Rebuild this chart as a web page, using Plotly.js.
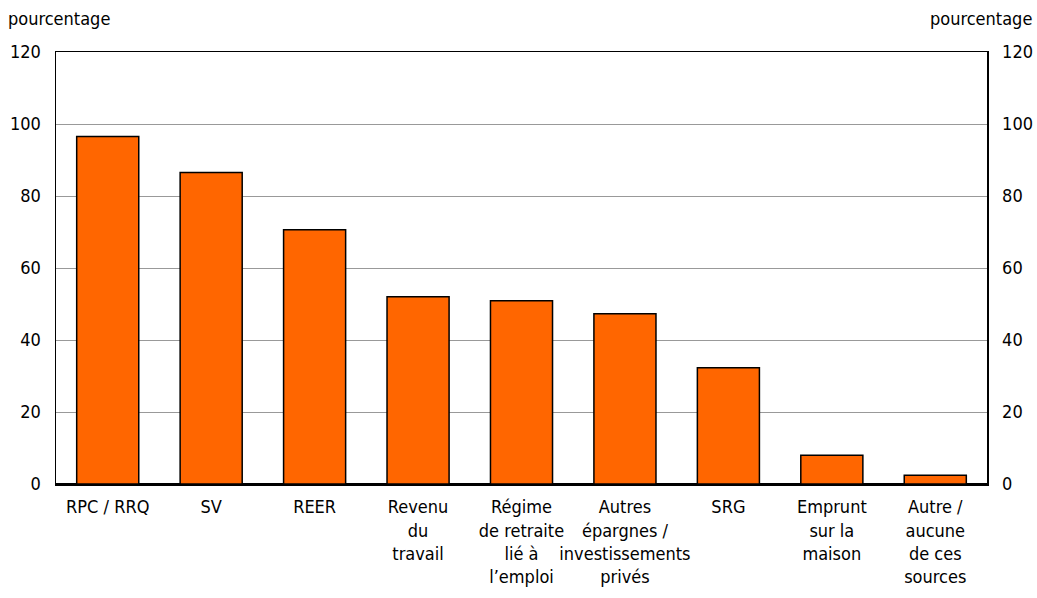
<!DOCTYPE html>
<html><head><meta charset="utf-8">
<script src="https://cdn.plot.ly/plotly-3.0.1.min.js"></script>
<style>html,body{margin:0;padding:0;background:#fff}#c{width:1037px;height:598px}</style>
</head><body><div id="c"></div>
<script>
var categories = ["RPC / RRQ","SV","REER","Revenu<br>du<br>travail","Régime<br>de retraite<br>lié à<br>l’emploi","Autres<br>épargnes /<br>investissements<br>privés","SRG","Emprunt<br>sur la<br>maison","Autre /<br>aucune<br>de ces<br>sources"];
var values = [96.5, 86.5, 70.6, 52.0, 50.9, 47.3, 32.3, 8.0, 2.4];
var yTicks = [0,20,40,60,80,100,120];
var unitLabel = "pourcentage";

var FONT = "'Liberation Sans Narrow','DejaVu Sans Condensed','Liberation Sans',sans-serif";
var trace = {
  type: "bar", x: categories, y: values,
  marker: {color: "#FF6600", line: {color: "#000", width: 1.5}},
  hoverinfo: "skip"
};
var ghost = {type: "scatter", x: categories, y: values, yaxis: "y2", mode: "none", hoverinfo: "skip", showlegend: false};
var yax = {
  range: [0,120], tickvals: yTicks, ticks: "", ticklabelstandoff: 10,
  showgrid: true, gridcolor: "#999", gridwidth: 1,
  zeroline: true, zerolinecolor: "#000", zerolinewidth: 3,
  showline: true, linecolor: "#000", linewidth: 1.5, fixedrange: true
};
var layout = {
  width: 1037, height: 598,
  margin: {l: 56, r: 50, t: 52, b: 114},
  paper_bgcolor: "#fff", plot_bgcolor: "#fff",
  font: {family: FONT, size: 18, color: "#000"},
  showlegend: false, bargap: 0.4,
  xaxis: {showline: true, mirror: true, linecolor: "#000", linewidth: 1.5, ticks: "", tickangle: 0, ticklabelstandoff: 6, fixedrange: true},
  yaxis: yax,
  yaxis2: Object.assign({}, yax, {overlaying: "y", side: "right", showgrid: false, zeroline: false}),
  annotations: [
    {xref: "paper", yref: "paper", x: 0, y: 1, xanchor: "left", yanchor: "middle", xshift: -50, yshift: 34, text: unitLabel, showarrow: false, font: {family: FONT, size: 18}},
    {xref: "paper", yref: "paper", x: 1, y: 1, xanchor: "right", yanchor: "middle", xshift: 47, yshift: 34, text: unitLabel, showarrow: false, font: {family: FONT, size: 18}}
  ]
};
Plotly.newPlot("c", [trace, ghost], layout, {staticPlot: true, displayModeBar: false});
</script></body></html>
